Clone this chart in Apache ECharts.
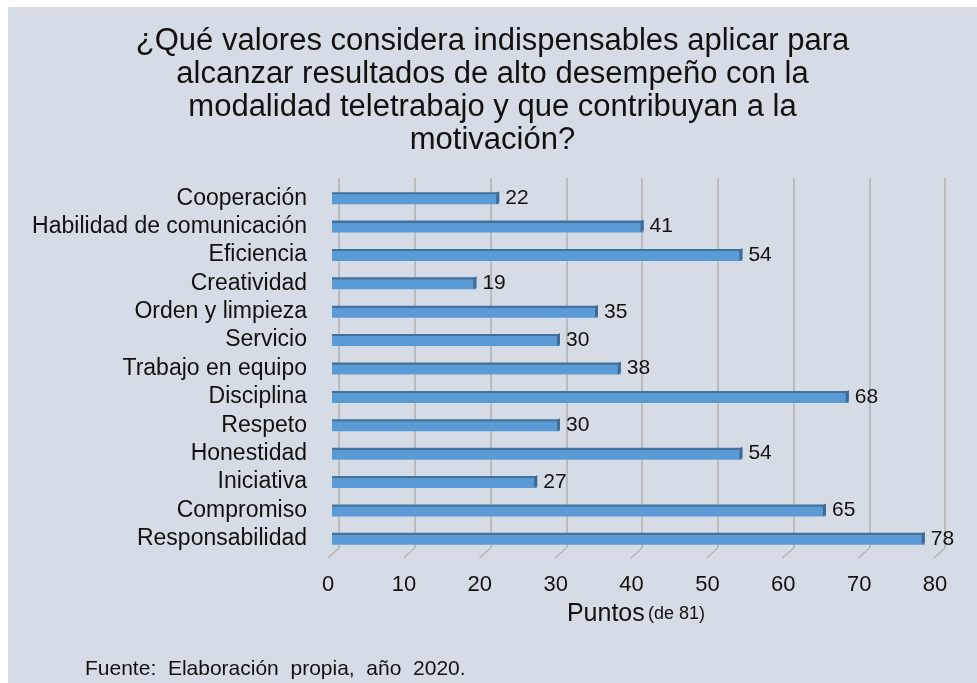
<!DOCTYPE html>
<html>
<head>
<meta charset="utf-8">
<script src="https://cdn.jsdelivr.net/npm/echarts@6/dist/echarts.min.js"></script>
<style>
html,body{margin:0;padding:0;background:#ffffff;}
#chart{position:absolute;left:8px;top:7px;width:969px;height:676px;background:#d6dce5;}
</style>
</head>
<body>
<div id="chart"></div>
<script>
const categories = ["Cooperación","Habilidad de comunicación","Eficiencia","Creatividad","Orden y limpieza","Servicio","Trabajo en equipo","Disciplina","Respeto","Honestidad","Iniciativa","Compromiso","Responsabilidad"];
const values = [22,41,54,19,35,30,38,68,30,54,27,65,78];
const tickValues = [0,10,20,30,40,50,60,70,80];
const titleText = "¿Qué valores considera indispensables aplicar para\nalcanzar resultados de alto desempeño con la\nmodalidad teletrabajo y que contribuyan a la\nmotivación?";
const sourceText = "Fuente:  Elaboración  propia,  año  2020.";

const FONT = 'Liberation Sans, Arial, sans-serif';
const BAR_W = 12;
const GRID_COLOR = '#b0b0b0';
const chart = echarts.init(document.getElementById('chart'));
chart.setOption({
  backgroundColor: '#d6dce5',
  animation: false,
  textStyle: {fontFamily: FONT},
  title: {
    text: titleText,
    left: 'center',
    top: 13,
    textStyle: {fontSize: 31, fontWeight: 'normal', color: '#111', lineHeight: 33, fontFamily: FONT}
  },
  grid: [
    {left: 324, top: 177, width: 608, height: 369},   // front plane: bars
    {left: 331, top: 171, width: 606, height: 370},   // back wall: gridlines
    {left: 320, top: 171, width: 607, height: 370}    // floor front edge: tick labels
  ],
  xAxis: [{
    gridIndex: 0, type: 'value', min: 0, max: 80, interval: 10,
    axisLine: {show: false}, axisTick: {show: false}, axisLabel: {show: false}, splitLine: {show: false},
    name: '{a|Puntos} {b|(de 81)}',
    nameLocation: 'middle',
    nameGap: 49,
    nameTextStyle: {rich: {a: {fontSize: 25, color: '#111', fontFamily: FONT}, b: {fontSize: 18, color: '#111', fontFamily: FONT}}}
  }, {
    gridIndex: 1, type: 'value', min: 0, max: 80, interval: 10,
    axisLine: {show: false}, axisTick: {show: false}, axisLabel: {show: false},
    splitLine: {show: true, lineStyle: {color: GRID_COLOR, width: 1.5}}
  }, {
    gridIndex: 2, type: 'value', min: 0, max: 80, interval: 10,
    axisLine: {show: false}, axisTick: {show: false}, splitLine: {show: false},
    axisLabel: {fontSize: 22, color: '#111', margin: 26}
  }],
  yAxis: [{
    gridIndex: 0, type: 'category', data: categories, inverse: true,
    axisLine: {show: false}, axisTick: {show: false},
    axisLabel: {fontSize: 23, color: '#111', margin: 25, interval: 0, padding: [5, 0, 0, 0]},
    splitLine: {show: false}
  }, {
    gridIndex: 1, type: 'value', min: 0, max: 1, show: false
  }, {
    gridIndex: 2, type: 'value', min: 0, max: 1, show: false
  }],
  series: [{
    type: 'bar',
    xAxisIndex: 0, yAxisIndex: 0,
    data: values,
    barWidth: BAR_W,
    z: 3,
    itemStyle: {
      color: new echarts.graphic.LinearGradient(0, 0, 0, 1, [
        {offset: 0, color: '#41719c'},
        {offset: 0.16, color: '#41719c'},
        {offset: 0.2, color: '#5b9bd5'},
        {offset: 1, color: '#5b9bd5'}
      ])
    },
    label: {show: true, position: 'right', distance: 6, fontSize: 21, color: '#111', fontFamily: FONT}
  }, {
    type: 'custom',
    xAxisIndex: 0, yAxisIndex: 0,
    data: values.map((v, i) => [v, i]),
    encode: {x: 0, y: 1},
    z: 4,
    renderItem: function (params, api) {
      const p = api.coord([api.value(0), api.value(1)]);
      const h = BAR_W;
      const x = p[0], y0 = p[1] - h / 2;
      return {
        type: 'polygon',
        shape: {points: [[x - 3, y0 + 1], [x, y0 - 1], [x, y0 + h - 2], [x - 3, y0 + h]]},
        style: {fill: '#3e6b96'}
      };
    }
  }, {
    type: 'custom',
    xAxisIndex: 1, yAxisIndex: 1,
    data: tickValues.map(v => [v, 0]),
    encode: {x: 0, y: 1},
    clip: false,
    z: 1,
    renderItem: function (params, api) {
      const p = api.coord([api.value(0), 0]);
      return {
        type: 'line',
        shape: {x1: p[0], y1: p[1], x2: p[0] - 11, y2: p[1] + 10},
        style: {stroke: GRID_COLOR, lineWidth: 1.2}
      };
    }
  }],
  graphic: [{
    type: 'text',
    left: 77, top: 652,
    style: {text: sourceText, fontSize: 21, fill: '#111', fontFamily: FONT}
  }]
});
</script>
</body>
</html>
